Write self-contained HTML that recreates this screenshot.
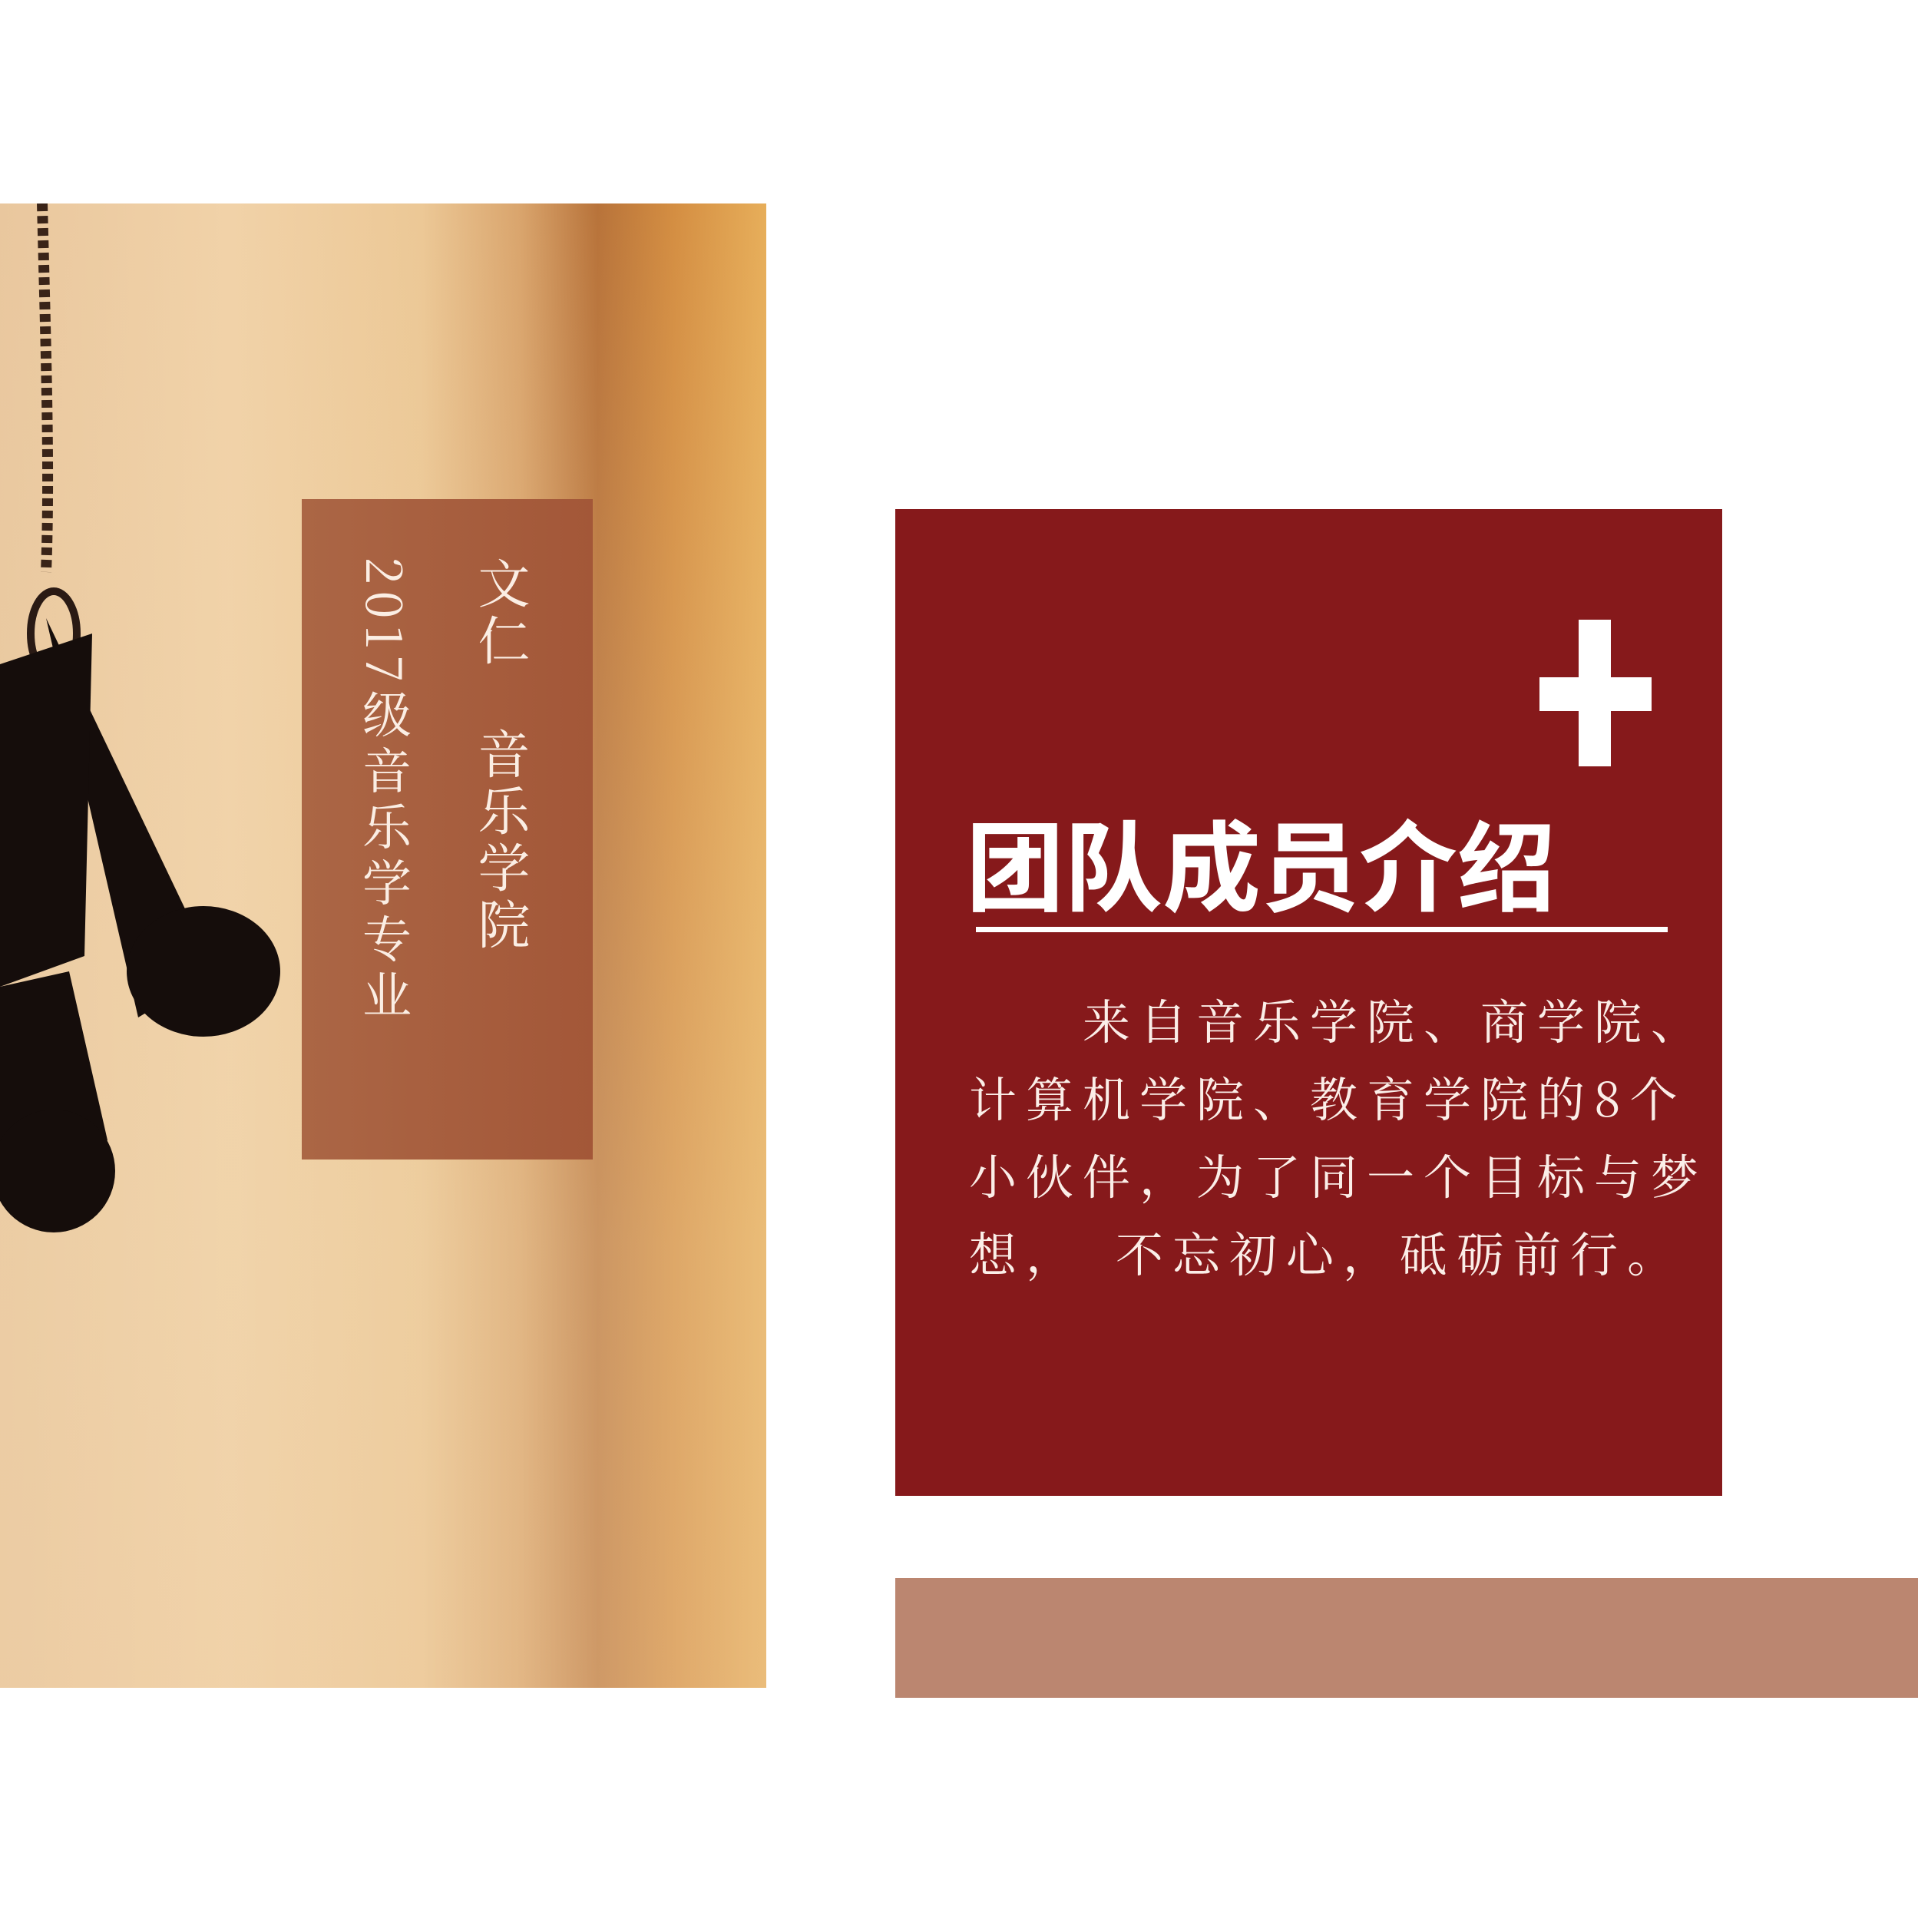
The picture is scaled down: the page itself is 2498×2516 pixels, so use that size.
<!DOCTYPE html>
<html><head><meta charset="utf-8">
<style>
html,body{margin:0;padding:0;background:#fff;}
body{width:2498px;height:2516px;position:relative;overflow:hidden;font-family:"Liberation Serif","Noto Serif CJK SC",serif;}
.abs{position:absolute;}
#photo{left:0;top:265px;width:998px;height:1933px;
background:linear-gradient(180deg,rgba(255,255,255,0.0),rgba(240,215,175,0.35) 70%,rgba(240,210,170,0.4)),linear-gradient(90deg,#e9c79e 0%,#f1d2a8 30%,#ecc896 55%,#d9a46c 68%,#b8733a 78%,#d48e42 88%,#e7ae5a 100%);}
#label-box{left:393px;top:650px;width:379px;height:860px;background:linear-gradient(90deg,#ab6645,#a35738);}
.vt{writing-mode:vertical-rl;color:#fbeee4;font-family:"Noto Serif CJK SC","Liberation Serif",serif;}
#col1{left:608px;top:725px;font-size:68px;letter-spacing:6px;}
#col2{left:458px;top:725px;font-size:64px;letter-spacing:9px;}
#red-box{left:1166px;top:663px;width:1077px;height:1285px;background:#86191b;}
#plus-v{left:2056px;top:807px;width:42px;height:191px;background:#fff;}
#plus-h{left:2005px;top:882px;width:146px;height:44px;background:#fff;}
#title{left:1258px;top:1028px;font-size:128px;font-weight:bold;color:#fff;font-family:"Noto Sans CJK SC","Liberation Sans",sans-serif;letter-spacing:0px;white-space:nowrap;}
#underline{left:1271px;top:1207px;width:901px;height:7px;background:#fff;}
#body-text{left:1262px;top:1276px;width:1000px;font-size:62px;line-height:101px;letter-spacing:12px;color:#fbeee8;font-family:"Noto Serif CJK SC","Liberation Serif",serif;white-space:nowrap;}
#bottom-bar{left:1166px;top:2055px;width:1332px;height:156px;background:#bb8670;}
</style></head><body>
<div id="photo" class="abs">
<svg width="998" height="1933" style="position:absolute;left:0;top:0">
<path d="M55 0 C60 200,65 350,60 480" stroke="#3a2418" stroke-width="14" fill="none" stroke-dasharray="10 6"/>
<ellipse cx="70" cy="560" rx="30" ry="55" fill="none" stroke="#2a1a14" stroke-width="10"/>
<path d="M60 540 L280 1000 L180 1060 Z" fill="#150d0b"/>
<ellipse cx="265" cy="1000" rx="100" ry="85" fill="#150d0b"/>
<path d="M0 600 L120 560 L110 980 L0 1020 Z" fill="#150d0b"/>
<path d="M0 1020 L90 1000 L140 1220 L60 1300 L0 1290 Z" fill="#150d0b"/>
<ellipse cx="70" cy="1260" rx="80" ry="80" fill="#150d0b"/>
</svg>
</div>
<div id="label-box" class="abs"></div>
<div id="col1" class="abs vt">文仁　音乐学院</div>
<div id="col2" class="abs vt">2017级音乐学专业</div>
<div id="red-box" class="abs"></div>
<div id="plus-v" class="abs"></div>
<div id="plus-h" class="abs"></div>
<div id="title" class="abs">团队成员介绍</div>
<div id="underline" class="abs"></div>
<div id="body-text" class="abs">　　来自音乐学院、商学院、<br>计算机学院、教育学院的8个<br>小伙伴，为了同一个目标与梦<br>想，　不忘初心，砥砺前行。</div>
<div id="bottom-bar" class="abs"></div>
</body></html>
